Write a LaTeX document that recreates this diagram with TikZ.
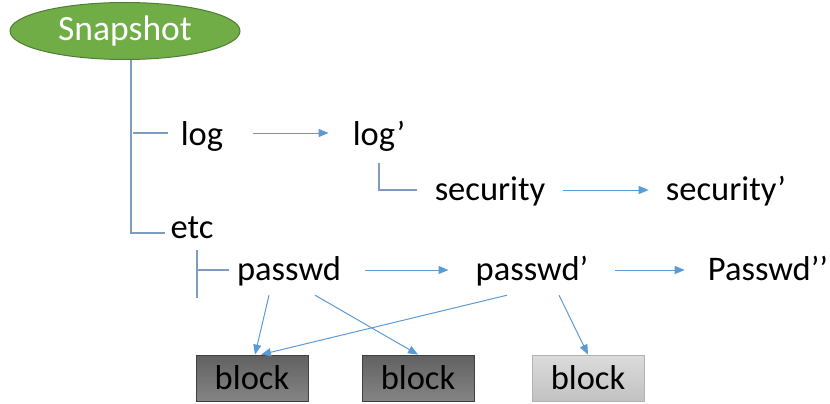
\documentclass[tikz,border=0pt]{standalone}
\usepackage{fontspec}
\setmainfont{Carlito}
\usepackage{tikz}
\usepackage{xcolor}
\usetikzlibrary{arrows.meta,shapes.geometric}
\definecolor{snapgreen}{HTML}{70AD47}
\definecolor{snapedge}{HTML}{507E32}
\definecolor{linkblue}{HTML}{5B9BD5}
\definecolor{treeblue}{HTML}{7E9CBD}

\begin{document}
\begin{tikzpicture}[x=1pt,y=-1pt,
    lbl/.style={anchor=base,inner sep=0pt,text height=20pt,text depth=7pt,font=\fontsize{34.5}{36}\selectfont},
    link/.style={linkblue,line width=1pt,-{Triangle[length=10pt,width=8pt]}},
    tree/.style={treeblue,line width=1.1pt},
    blk/.style={draw=black!75,line width=0.8pt,top color=black!62,bottom color=black!48,minimum width=112pt,minimum height=46pt,inner sep=0pt,font=\fontsize{34.5}{36}\selectfont},
    newblk/.style={blk,draw=black!30,top color=black!14,bottom color=black!24}]
                \useasboundingbox (0,0) rectangle (830,404);
                \node[ellipse,fill=snapgreen,draw=snapedge,line width=1pt,minimum width=230pt,minimum height=57pt,inner sep=0pt,text=white,font=\fontsize{35.5}{36}\selectfont] (snap) at (125,31) {Snapshot};
                \node[lbl] (log) at (202,145) {log};
                \node[lbl] (logp) at (379,145) {log’};
                \node[lbl] (sec) at (490,200) {security};
                \node[lbl] (secp) at (726,200) {security’};
                \node[lbl] (etc) at (192,238) {etc};
                \node[lbl] (pw) at (289,280) {passwd};
                \node[lbl] (pwp) at (532,280) {passwd’};
                \node[lbl] (pwpp) at (768,280) {Passwd’’};
                \node[blk] (b1) at (252,378) {block};
                \node[blk] (b2) at (418,378) {block};
                \node[newblk] (b3) at (588,378) {block};
                \draw[tree] ([xshift=6pt]snap.south) |- ([xshift=-5pt,yshift=-1.5pt]etc.west);
                \draw[tree] ([xshift=-13pt,yshift=5.5pt]log.west) -- ++(-35,0);
                \draw[tree] ([yshift=-11pt]logp.south) |- ([xshift=-18pt,yshift=3.5pt]sec.west);
                \draw[tree] ([xshift=5pt,yshift=-5pt]etc.south) -- ++(0,48);
                \draw[tree] ([xshift=-8pt,yshift=3.5pt]pw.west) -- ++(-33,0);
                \draw[link] ([xshift=30pt,yshift=5.5pt]log.east) -- ([xshift=-24pt,yshift=5.5pt]logp.west);
                \draw[link] ([xshift=18pt,yshift=3.5pt]sec.east) -- ([xshift=-17pt,yshift=3.5pt]secp.west);
                \draw[link] ([xshift=24pt,yshift=3.5pt]pw.east) -- ([xshift=-27pt,yshift=3.5pt]pwp.west);
                \draw[link] ([xshift=27pt,yshift=3.5pt]pwp.east) -- ([xshift=-23pt,yshift=3.5pt]pwpp.west);
                \draw[link] ([xshift=-20pt,yshift=-8pt]pw.south) -- ([xshift=3pt]b1.north);
                \draw[link] ([xshift=26pt,yshift=-8pt]pw.south) -- (b2.north);
                \draw[link] ([xshift=-25pt,yshift=-8pt]pwp.south) -- ([xshift=9pt]b1.north);
                \draw[link] ([xshift=27pt,yshift=-8pt]pwp.south) -- (b3.north);
            \end{tikzpicture}
\end{document}
